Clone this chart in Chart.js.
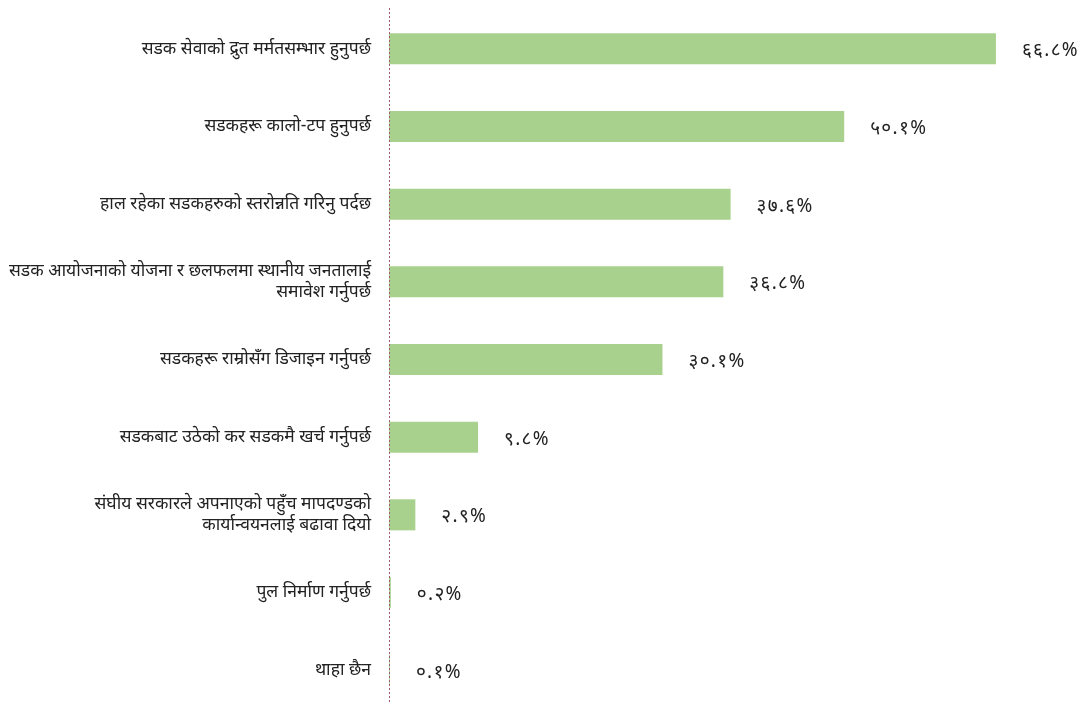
<!DOCTYPE html>
<html><head><meta charset="utf-8">
<script src="https://cdn.jsdelivr.net/npm/chart.js@4/dist/chart.umd.min.js"></script>
<style>html,body{margin:0;padding:0;background:#fff;overflow:hidden}#wrap{width:1081px;height:709px;position:relative}</style>
</head><body><div id="wrap"><canvas id="c"></canvas></div>
<script>
const categories = [
  "सडक सेवाको द्रुत मर्मतसम्भार हुनुपर्छ",
  "सडकहरू कालो-टप हुनुपर्छ",
  "हाल रहेका सडकहरुको स्तरोन्नति गरिनु पर्दछ",
  ["सडक आयोजनाको योजना र छलफलमा स्थानीय जनतालाई", "समावेश गर्नुपर्छ"],
  "सडकहरू राम्रोसँग डिजाइन गर्नुपर्छ",
  "सडकबाट उठेको कर सडकमै खर्च गर्नुपर्छ",
  ["संघीय सरकारले अपनाएको पहुँच मापदण्डको", "कार्यान्वयनलाई बढावा दियो"],
  "पुल निर्माण गर्नुपर्छ",
  "थाहा छैन"
];
const values = [66.8, 50.1, 37.6, 36.8, 30.1, 9.8, 2.9, 0.2, 0.1];
const devDigits = ["०","१","२","३","४","५","६","७","८","९"];
const toDev = v => v.toFixed(1).replace(/[0-9]/g, d => devDigits[+d]) + "%";

const FONT = "'Noto Sans', 'Noto Sans Devanagari', 'Lohit Devanagari', sans-serif";

const valueLabels = {
  id: 'valueLabels',
  afterDatasetsDraw(chart) {
    const ctx = chart.ctx;
    const meta = chart.getDatasetMeta(0);
    ctx.save();
    ctx.fillStyle = '#222';
    ctx.font = "19px " + FONT;
    try { ctx.letterSpacing = '1.3px'; } catch (e) {}
    ctx.textAlign = 'left';
    ctx.textBaseline = 'middle';
    meta.data.forEach((bar, i) => {
      ctx.fillText(toDev(values[i]), bar.x + 26, bar.y + 2);
    });
    ctx.restore();
  }
};

const dottedAxis = {
  id: 'dottedAxis',
  afterDatasetsDraw(chart) {
    const ctx = chart.ctx;
    const x = Math.round(chart.chartArea.left) + 0.5;
    ctx.save();
    ctx.strokeStyle = '#a05a72';
    ctx.lineWidth = 1;
    ctx.setLineDash([2, 2]);
    ctx.beginPath();
    ctx.moveTo(x, 8);
    ctx.lineTo(x, chart.height);
    ctx.stroke();
    ctx.restore();
  }
};

new Chart(document.getElementById('c'), {
  type: 'bar',
  data: {
    labels: categories,
    datasets: [{
      data: values,
      backgroundColor: '#a9d18e',
      borderWidth: 0,
      barPercentage: 0.4,
      categoryPercentage: 1.0
    }]
  },
  options: {
    indexAxis: 'y',
    responsive: true,
    maintainAspectRatio: false,
    animation: false,
    layout: { padding: { left: 0, right: 56, top: 10, bottom: 0 } },
    plugins: { legend: { display: false }, tooltip: { enabled: false } },
    scales: {
      x: { display: false, min: 0, max: 70 },
      y: {
        grid: { display: false, drawTicks: false },
        border: { display: false },
        ticks: { color: '#222', padding: 18, font: { size: 17.5, family: FONT }, crossAlign: 'near' },
        afterFit(scale) { scale.width = 389; scale.paddingTop = 0; scale.paddingBottom = 0; }
      }
    }
  },
  plugins: [valueLabels, dottedAxis]
});
</script>
</body></html>
